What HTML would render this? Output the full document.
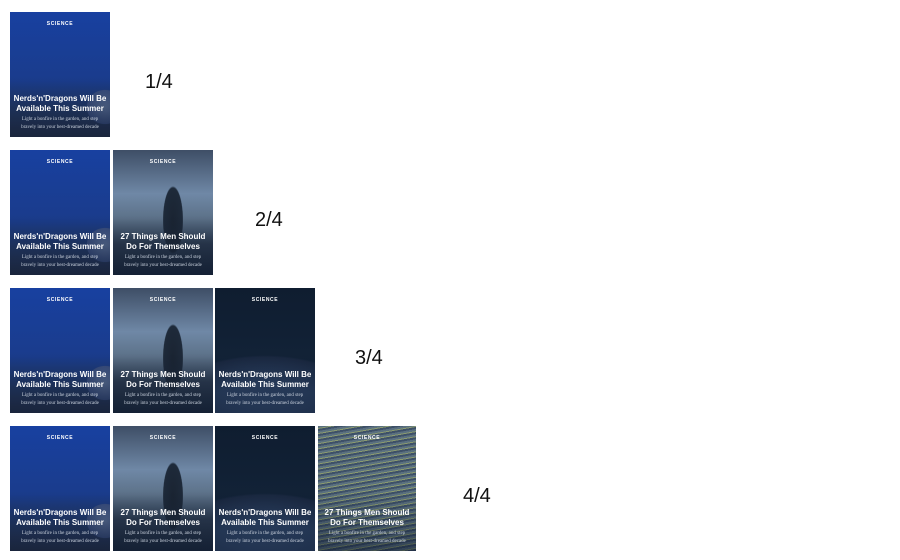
<!DOCTYPE html>
<html><head><meta charset="utf-8"><style>
body{margin:0;width:900px;height:560px;background:#fff;position:relative;overflow:hidden;font-family:"Liberation Sans",sans-serif}
.card{position:absolute;width:100px;height:125px;overflow:hidden;color:#fff;text-align:center}
.tag{position:absolute;top:9px;left:0;right:0;font-size:5px;font-weight:bold;letter-spacing:.6px}
.t{position:absolute;top:82px;left:0;right:0;font-size:8px;font-weight:bold;line-height:9.5px}
.s{position:absolute;top:104px;left:0;right:0;font-size:5px;line-height:7.5px;font-family:"Liberation Serif",serif;color:#c8d0dc}
.c1{background:radial-gradient(ellipse 30px 28px at 95px 95px,#5a6f95 0,#3a4f80 60%,transparent 62%),linear-gradient(#1840a0,#1a3c8c 55%,#243a66 80%,#2a3650)}
.c2{background:radial-gradient(ellipse 12px 40px at 60px 70px,#1a2432 0,#1e2a3a 80%,transparent 85%),linear-gradient(#3e4e66,#6f88a6 35%,#5c7188 55%,#2e3d52 75%,#1f2d40)}
.c3{background:radial-gradient(ellipse 140px 90px at 50px 150px,#45618a 0,#2f4668 60%,#1a2840 90%,transparent 92%),linear-gradient(#0f1d30,#14263c)}
.c4{background:repeating-linear-gradient(170deg,#5a7080 0 2px,#8a9a70 2px 3px,#3d5068 3px 5px),#4a5e78}
.ov{position:absolute;left:0;right:0;bottom:0;height:60px;background:linear-gradient(transparent,rgba(10,20,40,.5))}
.lbl{position:absolute;font-size:20px;color:#111}
</style></head><body>
<script>
const rows=[12,150,288,426];
const xs=[10,113,215,318];
const ws=[100,100,100,98];
const cls=['c1','c2','c3','c4'];
const titles=[["Nerds'n'Dragons Will Be","Available This Summer"],["27 Things Men Should","Do For Themselves"]];
const lblX=[145,255,355,463];
rows.forEach((y,r)=>{
  for(let i=0;i<=r;i++){
    const d=document.createElement('div');
    d.className='card '+cls[i];
    d.style.left=xs[i]+'px';d.style.top=y+'px';d.style.width=ws[i]+'px';
    
    
    const tt=titles[i%2];
    d.innerHTML='<div class="ov"></div><div class="tag">SCIENCE</div><div class="t">'+tt[0]+'<br>'+tt[1]+'</div><div class="s">Light a bonfire in the garden, and step<br>bravely into your best-dreamed decade</div>';
    document.body.appendChild(d);
  }
  const l=document.createElement('div');
  l.className='lbl';
  l.style.left=lblX[r]+'px';l.style.top=(y+59)+'px';
  l.textContent=(r+1)+'/4';
  
  
  document.body.appendChild(l);
});
</script>
</body></html>
